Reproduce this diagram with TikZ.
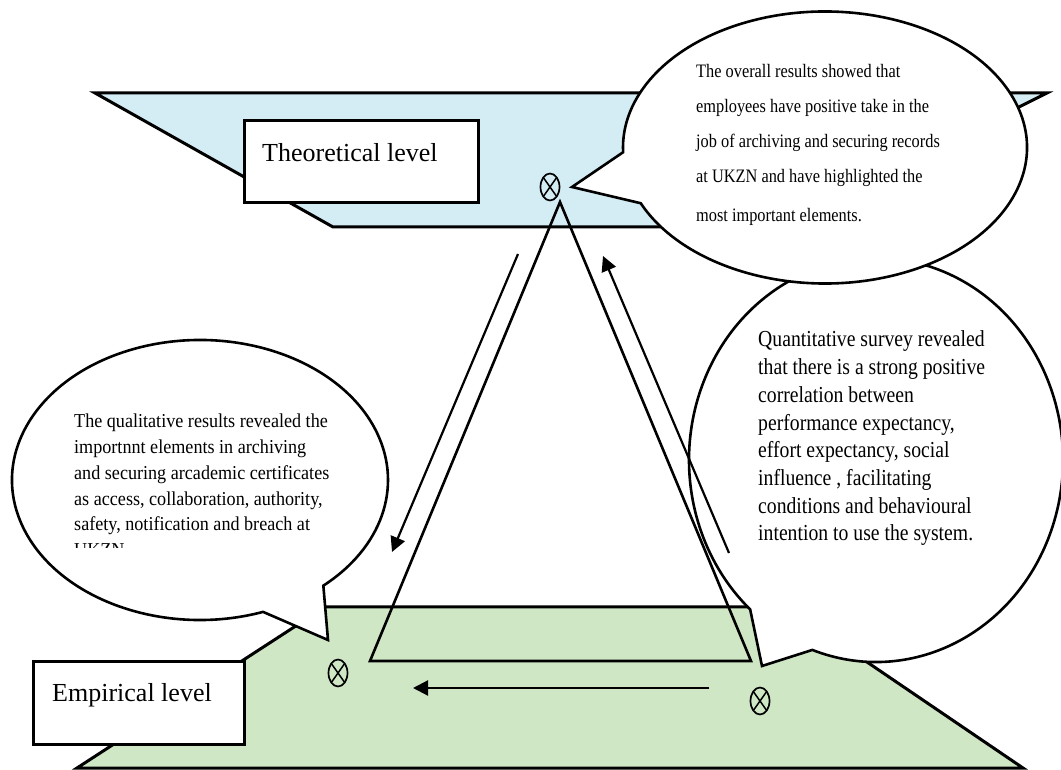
\documentclass[tikz,border=0pt]{standalone}
\usepackage{fontspec}
\setmainfont{Liberation Serif}
\newfontfamily\notefont{Liberation Serif}[FakeStretch=0.86]
\newfontfamily\qualfont{Liberation Serif}[FakeStretch=0.92]
\usetikzlibrary{arrows.meta,shapes.geometric,calc}
\definecolor{planeblue}{HTML}{D4ECF3}
\definecolor{planegreen}{HTML}{D0E7C5}
\begin{document}
\begin{tikzpicture}[x=1pt,y=1pt,
  plane/.style={draw, line width=3pt, line join=miter},
  levelbox/.style={draw, fill=white, line width=3pt, inner sep=0pt, anchor=north west},
  leveltext/.style={anchor=base west, inner sep=0pt, font=\fontsize{26}{30}\selectfont},
  bubble/.style={draw, fill=white, line width=2.6pt, line join=miter},
  edge/.style={line width=2.6pt, line join=miter},
  flow/.style={line width=2.2pt, -{Triangle[length=15pt,width=15pt]}},
  notetext/.style={anchor=base west, inner sep=0pt},
  xmark/.style={ellipse, draw, line width=1.7pt, minimum width=19pt, minimum height=27pt, inner sep=0pt,
    path picture={\draw[line width=1.5pt]
      (path picture bounding box.north west) -- (path picture bounding box.south east)
      (path picture bounding box.north east) -- (path picture bounding box.south west);}},
  ]
\useasboundingbox (0,0) rectangle (1061,769);

% the two levels as planes
\path[plane, fill=planeblue] (95,676) -- (1047,676) -- (779,542) -- (333,542) -- cycle;
\path[plane, fill=planegreen] (325,162) -- (786,162) -- (1023,1) -- (77,1) -- cycle;

% level labels
\node[levelbox, minimum width=234pt, minimum height=82pt] (thbox) at (243,650) {};
\node[leveltext] (thtext) at (262,607) {Theoretical level};
\node[levelbox, minimum width=211pt, minimum height=83pt] (embox) at (32,109) {};
\node[leveltext] (emtext) at (52,67) {Empirical level};

% speech bubbles
\coordinate (crc) at (876,309);
\draw[bubble] ($(crc)+(227.7:187pt and 202pt)$) -- (762,103) -- ($(crc)+(250.1:187pt and 202pt)$)
  arc[start angle=250.1, end angle=587.7, x radius=187pt, y radius=202pt] -- cycle;

\coordinate (ctc) at (825,621.5);
\draw[bubble] ($(ctc)+(182:202pt and 136pt)$) -- (572,582) -- ($(ctc)+(204.2:202pt and 136pt)$)
  arc[start angle=204.2, end angle=542, x radius=202pt, y radius=136pt] -- cycle;

\coordinate (clc) at (200,289);
\draw[bubble] ($(clc)+(311:188pt and 140pt)$) -- (328,129) -- ($(clc)+(289.6:188pt and 140pt)$)
  arc[start angle=289.6, end angle=-49, x radius=188pt, y radius=140pt] -- cycle;

% triangle
\coordinate (apex) at (560,567);
\coordinate (bl) at (370,108);
\coordinate (br) at (751,108);
\draw[edge] (apex) -- (bl) -- (br) -- cycle;

% flows along the triangle
\coordinate (d1) at (518,515);
\coordinate (d2) at (392,217);
\coordinate (u1) at (729,216);
\coordinate (u2) at (603,513);
\coordinate (h1) at (709,81);
\coordinate (h2) at (413,81);
\draw[flow] (d1) -- (d2);
\draw[flow] (u1) -- (u2);
\draw[flow] (h1) -- (h2);

% markers
\node[xmark] (mtop) at (550,582) {};
\node[xmark] (mleft) at (338,96) {};
\node[xmark] (mright) at (760,68) {};

% bubble texts
\node[notetext] (toptext) at (696,691) {\notefont\fontsize{19}{35}\selectfont
  \begin{tabular}[t]{@{}l@{}}
  The overall results showed that\\
  employees have positive take in the\\
  job of archiving and securing records\\
  at UKZN and have highlighted the\\[4pt]
  most important elements.
  \end{tabular}};

\node[notetext] (righttext) at (758,422) {\notefont\fontsize{22.9}{27.7}\selectfont
  \begin{tabular}[t]{@{}l@{}}
  Quantitative survey revealed\\
  that there is a strong positive\\
  correlation between\\
  performance expectancy,\\
  effort expectancy, social\\
  influence , facilitating\\
  conditions and behavioural\\
  intention to use the system.
  \end{tabular}};

\begin{scope}
\clip (0,221) rectangle (420,400);
\node[notetext] (lefttext) at (74,341) {\qualfont\fontsize{19.7}{25.7}\selectfont
  \begin{tabular}[t]{@{}l@{}}
  The qualitative results revealed the\\
  importnnt elements in archiving\\
  and securing arcademic certificates\\
  as access, collaboration, authority,\\
  safety, notification and breach at\\
  UKZN
  \end{tabular}};
\end{scope}
\end{tikzpicture}
\end{document}
